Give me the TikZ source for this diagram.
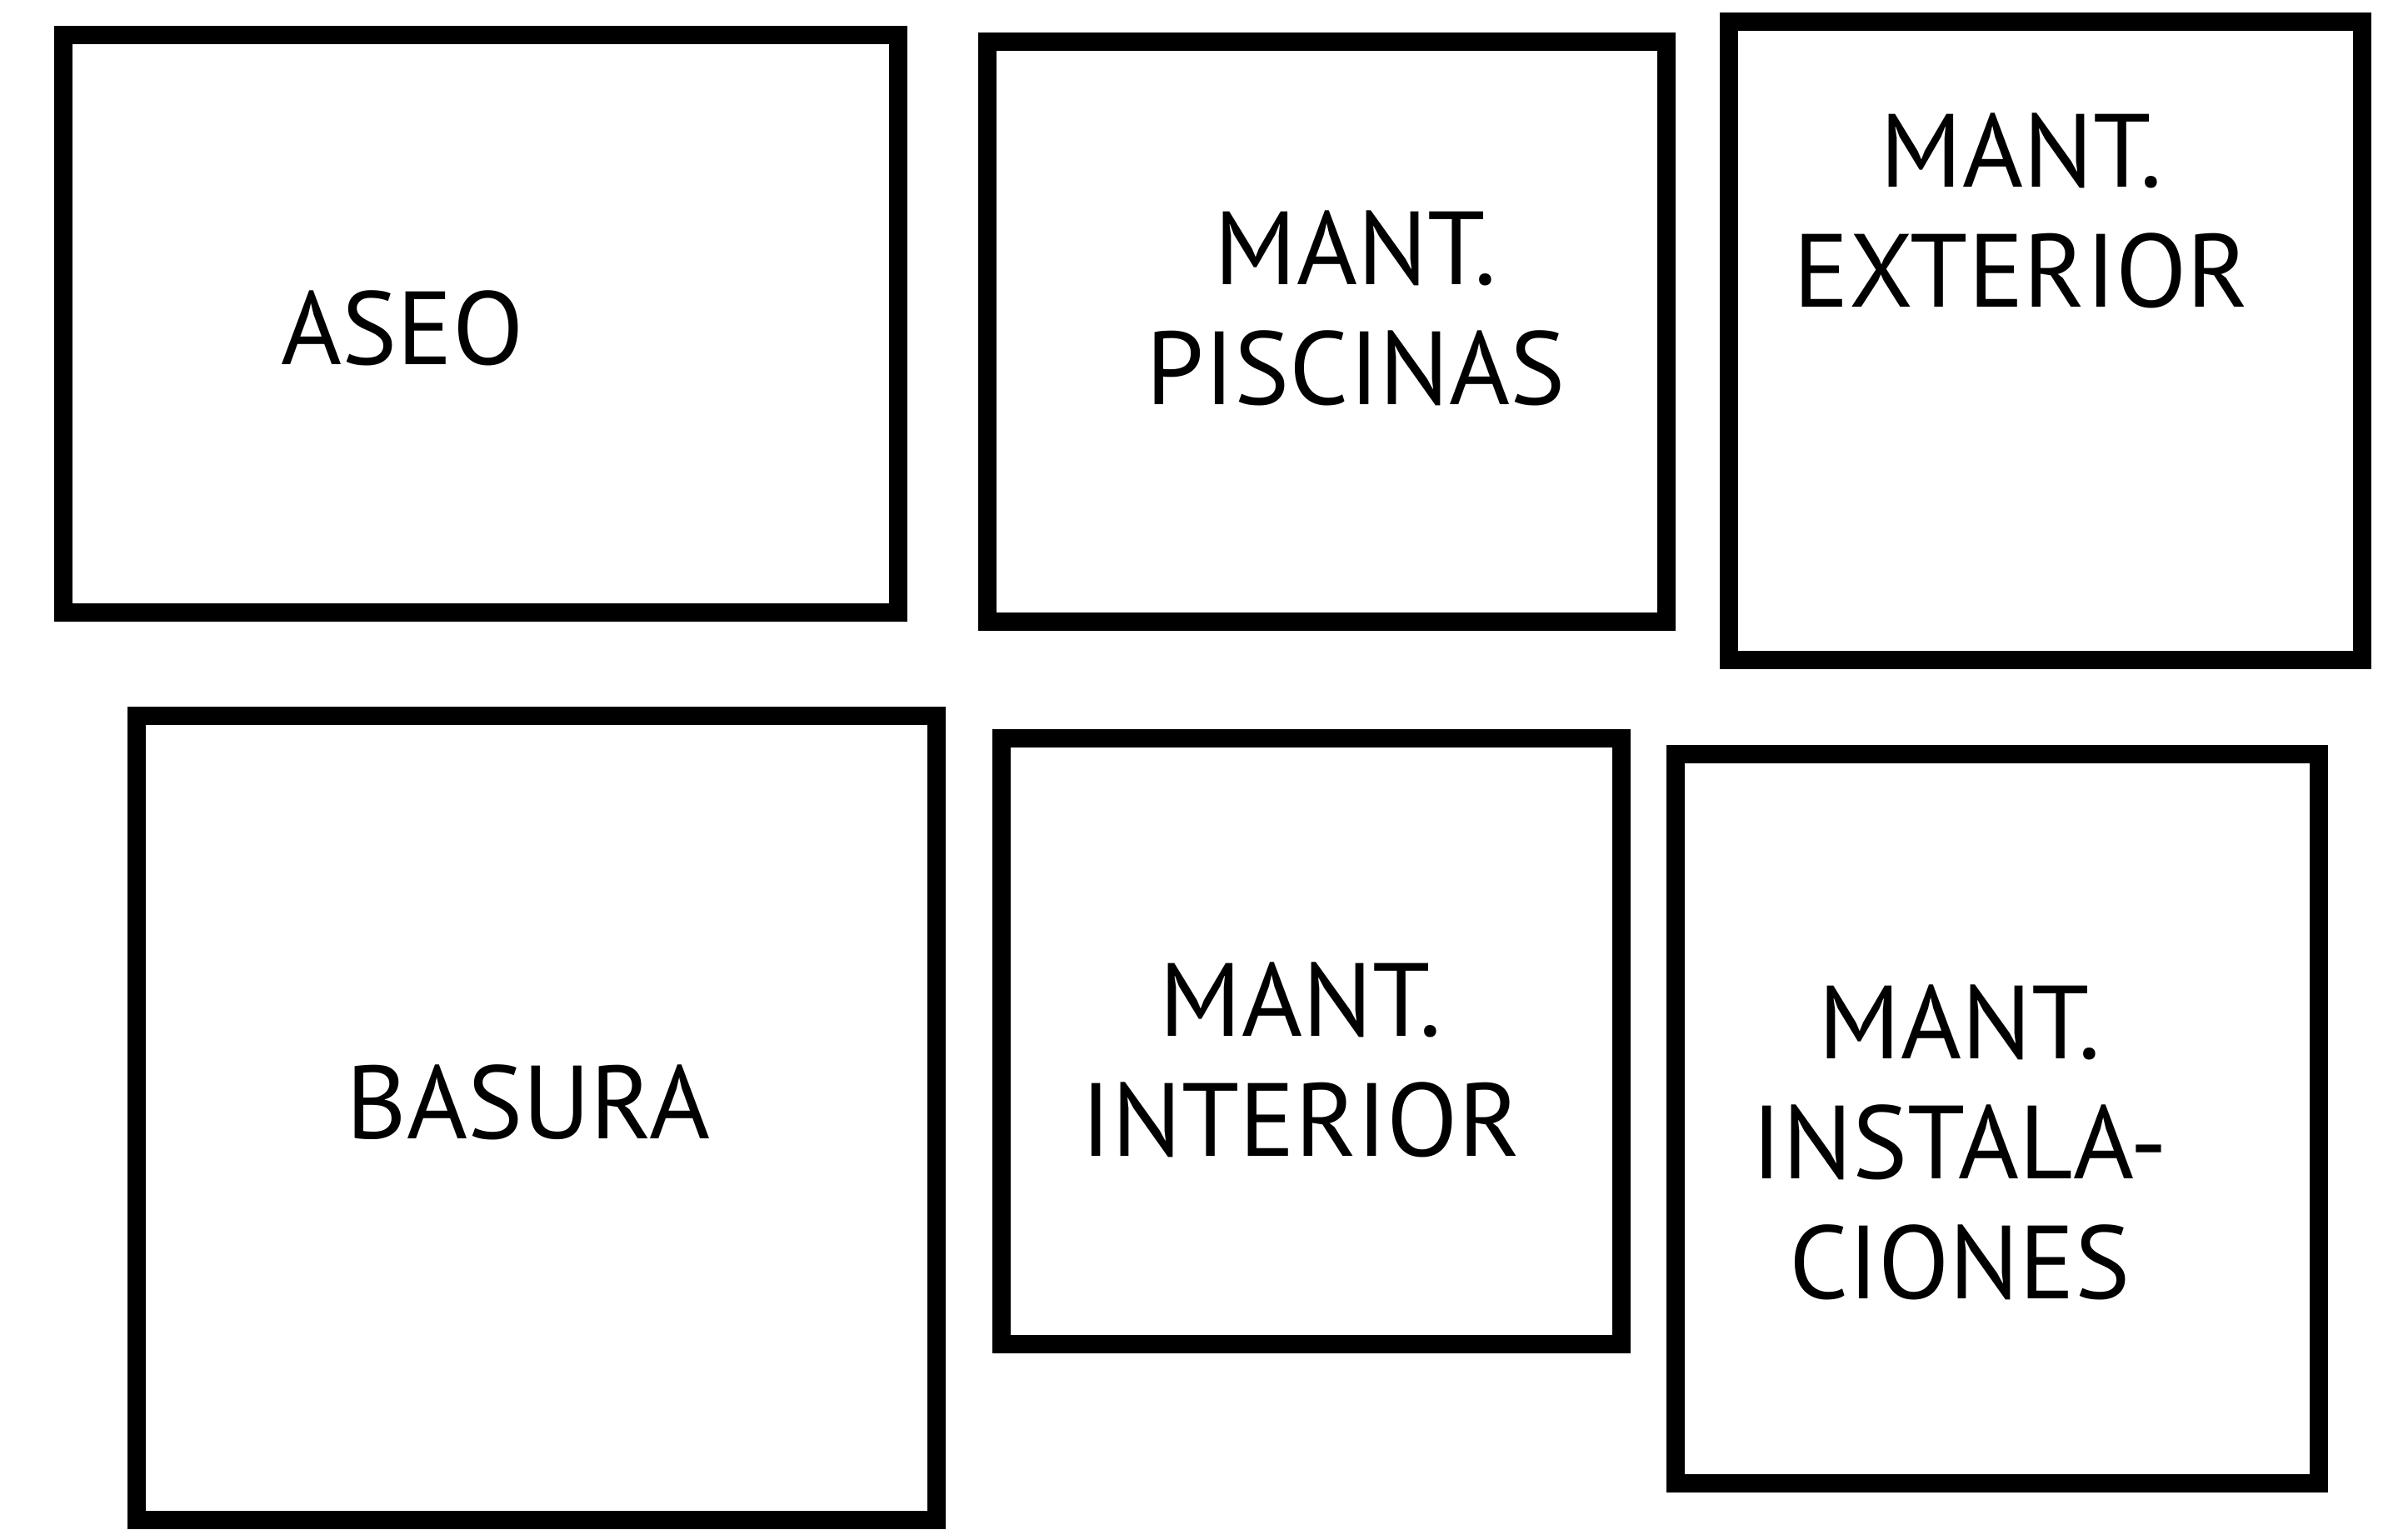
\documentclass[tikz,border=0pt]{standalone}
\usepackage{fontspec}
\setmainfont{PT Sans}

\tikzset{
  box/.style={line width=6.5pt},
  tag/.style={align=center, font=\fontsize{35.5}{41}\selectfont}
}

\begin{document}
\begin{tikzpicture}
    \useasboundingbox (0,0) rectangle (28.9,-18.35);

    % Boxes (top row)
    \draw[box] (0.76,-0.42) rectangle (10.78,-7.35);
    \draw[box] (11.85,-0.50) rectangle (20.00,-7.46);
    \draw[box] (20.75,-0.26) rectangle (28.35,-7.92);

    % Boxes (bottom row)
    \draw[box] (1.64,-8.59) rectangle (11.24,-18.24);
    \draw[box] (12.02,-8.86) rectangle (19.46,-16.13);
    \draw[box] (20.11,-9.05) rectangle (27.83,-17.80);

    % Labels
    \node[tag] (aseo) at (4.83,-3.94) {ASEO};
    \node[tag] (piscinas) at (16.27,-3.70) {MANT.\\PISCINAS};
    \node[tag] (exterior) at (24.26,-2.53) {MANT.\\EXTERIOR};

    \node[tag] (basura) at (6.34,-13.23) {BASURA};
    \node[tag] (interior) at (15.61,-12.72) {MANT.\\INTERIOR};
    \node[tag] (instalaciones) at (23.52,-13.71) {MANT.\\INSTALA-\\CIONES};
\end{tikzpicture}
\end{document}
